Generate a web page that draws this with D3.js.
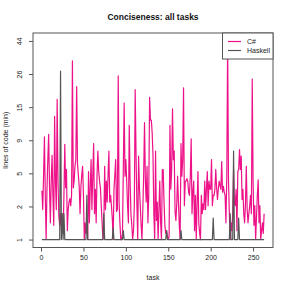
<html>
<head>
<script src="https://d3js.org/d3.v7.min.js"></script>
<style>
  body { margin: 0; background: #fff; }
  text { font-family: "Liberation Sans", Arial, sans-serif; }
</style>
</head>
<body>
<svg></svg>
<script>
// lines of code per task (min)
var csharp = [
  3.3,2.2,4.5,9,3,1,3.4,6,9.4,3.5, 1.6,4,6.5,3,1.5,12.8,4,2.2,17,4,
  1.9,1.5,2,1.3,1.6,1.2,3,7.9,3.5,5, 1.3,2.2,2.6,2.8,2.4,3,32,3.5,4,5.3,
  6,21,5.5,4.5,3.6,2,3.6,4.5,5.3,3, 1,1.6,1.2,1.4,1,4.8,1.6,3.5,6,2.2,
  4.5,8,2,3.4,1.6,4.5,7,4.8,4,3.5, 2.4,1.6,1,1.4,5.3,2.2,4,2.6,4.5,7,
  2.6,3,2.4,1.8,1,3.4,4.5,6,2.1,2.2, 25,2.6,1.6,1,1,1.2,5,16,4.4,6,
  4,2.4,1.6,11,4,2,1.5,1,1.3,2.4, 20,6.6,2.5,1,6.4,3.5,2.4,1.5,1,2.2,
  4.5,11.5,4,2.6,5.3,1.6,3,17.6,12,12, 9.7,6.5,2,1,7,1.7,2.6,1,2.2,4,
  1.6,1,5,5,2.6,1.5,1.2,1.3,1.1,1, 1.1,11,3.4,5,14.5,6,7,2.1,1.7,2.5,
  4.4,2.6,1.5,1,8,4.4,6,20.6,2.4,4, 4,4.2,4,3.2,3,4.4,8.7,2,3.2,4,
  1.3,3,1,2.5,4.8,1.6,1.2,1,3,2, 2.5,2.2,4,2.2,3.4,4.8,2.4,4,3.4,3.4,
  6,2.4,3,3,3.4,5,3.5,2.75,3.4,4, 3.7,3.4,5.8,3.2,3.6,3.2,3,1.6,4.4,44,
  4,2,1,1.6,1.3,2,5,2.5,2.4,3.4, 1.3,4.8,5,7.2,5,6.4,2.75,3.4,2,1.6,
  2.5,5.3,2.2,1.6,2,2.4,3,2,23.7,4, 1.5,2.4,1,1.8,3,4.1,1.6,2.4,1,1.3,
  1.6,1.2,2
];
var haskell = csharp.map(function(){ return 1; });
// spikes of the Haskell series (task -> value)
var haskellTasks  = [23, 25, 27, 54, 74, 85, 97, 148, 165, 203, 223, 227, 233];
var haskellValues = [27, 2,  2,  3,  2,  1.4, 1.3, 1.3, 1.3, 1.8, 2,  7,   1.8];
haskellTasks.forEach(function(t, i){ haskell[t-1] = haskellValues[i]; });

var xTicks = [0, 50, 100, 150, 200, 250];
var yTickLabels = [1, 2, 5, 9, 15, 26, 44];
var seriesNames = ["C#", "Haskell"];
var seriesColors = ["#ee1289", "#555555"];

var W = 291, H = 291;
var plot = {left: 33, right: 273, top: 33, bottom: 247.5};

var svg = d3.select("svg").attr("width", W).attr("height", H);

var n = csharp.length;
var xPad = 0.04 * (n - 1);
var x = d3.scaleLinear()
  .domain([1 - xPad, n + xPad])
  .range([plot.left, plot.right]);

// y is log(lines + 1): symlog with constant 1
var all = csharp.concat(haskell);
var lo = Math.log1p(d3.min(all)), hi = Math.log1p(d3.max(all));
var yPad = 0.04 * (hi - lo);
var y = d3.scaleSymlog().constant(1)
  .domain([Math.expm1(lo - yPad), Math.expm1(hi + yPad)])
  .range([plot.bottom, plot.top]);
// ticks sit evenly between min and max in log space
var yTickVals = yTickLabels.map(function(d, i){
  return Math.expm1(lo + i * (hi - lo) / (yTickLabels.length - 1));
});

var axisCol = "#555";

// x axis
var xAxis = d3.axisBottom(x).tickValues(xTicks).tickSize(4).tickPadding(4);
var gx = svg.append("g")
  .attr("transform", "translate(0," + plot.bottom + ")")
  .call(xAxis);
gx.select(".domain").remove();
gx.append("line").attr("x1", x(xTicks[0])).attr("x2", x(xTicks[xTicks.length-1]))
  .attr("stroke", axisCol);
gx.selectAll(".tick line").attr("stroke", axisCol);
gx.selectAll(".tick text").attr("font-size", 7).attr("fill", "#222")
  .attr("font-family", "Liberation Sans");

// y axis
var yAxis = d3.axisLeft(y).tickValues(yTickVals).tickSize(4)
  .tickFormat(function(d, i){ return yTickLabels[i]; });
var gy = svg.append("g")
  .attr("transform", "translate(" + plot.left + ",0)")
  .call(yAxis);
gy.select(".domain").remove();
gy.selectAll(".tick line").attr("stroke", axisCol);
gy.selectAll(".tick text")
  .attr("font-size", 7).attr("fill", "#222").attr("font-family", "Liberation Sans")
  .attr("text-anchor", "middle").attr("dy", 0)
  .attr("x", 0).attr("y", 0)
  .attr("transform", "translate(-11,0) rotate(-90)");

// series
var line = d3.line()
  .x(function(d, i){ return x(i + 1); })
  .y(function(d){ return y(d); });

[csharp, haskell].forEach(function(s, k){
  svg.append("path")
    .datum(s)
    .attr("d", line)
    .attr("fill", "none")
    .attr("stroke", seriesColors[k])
    .attr("stroke-width", 1.2)
    .attr("stroke-linejoin", "round");
});

// box
svg.append("rect")
  .attr("x", plot.left).attr("y", plot.top)
  .attr("width", plot.right - plot.left).attr("height", plot.bottom - plot.top)
  .attr("fill", "none").attr("stroke", axisCol);

// legend
var lg = svg.append("g");
lg.append("rect")
  .attr("x", 222.5).attr("y", plot.top)
  .attr("width", plot.right - 222.5).attr("height", 26)
  .attr("fill", "#fff").attr("stroke", axisCol);
seriesNames.forEach(function(name, i){
  var yy = plot.top + 8.5 + i * 9;
  lg.append("line").attr("x1", 228).attr("x2", 241).attr("y1", yy).attr("y2", yy)
    .attr("stroke", seriesColors[i]).attr("stroke-width", 1.2);
  lg.append("text").attr("x", 247).attr("y", yy + 2.5)
    .attr("font-size", 7).attr("fill", "#222").text(name);
});

// titles
svg.append("text")
  .attr("x", (plot.left + plot.right) / 2).attr("y", 19.5)
  .attr("text-anchor", "middle").attr("font-size", 8.5).attr("font-weight", "bold")
  .attr("fill", "#111").text("Conciseness: all tasks");
svg.append("text")
  .attr("x", (plot.left + plot.right) / 2).attr("y", 280)
  .attr("text-anchor", "middle").attr("font-size", 7).attr("fill", "#222")
  .text("task");
svg.append("text")
  .attr("transform", "translate(8," + ((plot.top + plot.bottom) / 2) + ") rotate(-90)")
  .attr("text-anchor", "middle").attr("font-size", 7).attr("fill", "#222")
  .text("lines of code (min)");
</script>
</body>
</html>
